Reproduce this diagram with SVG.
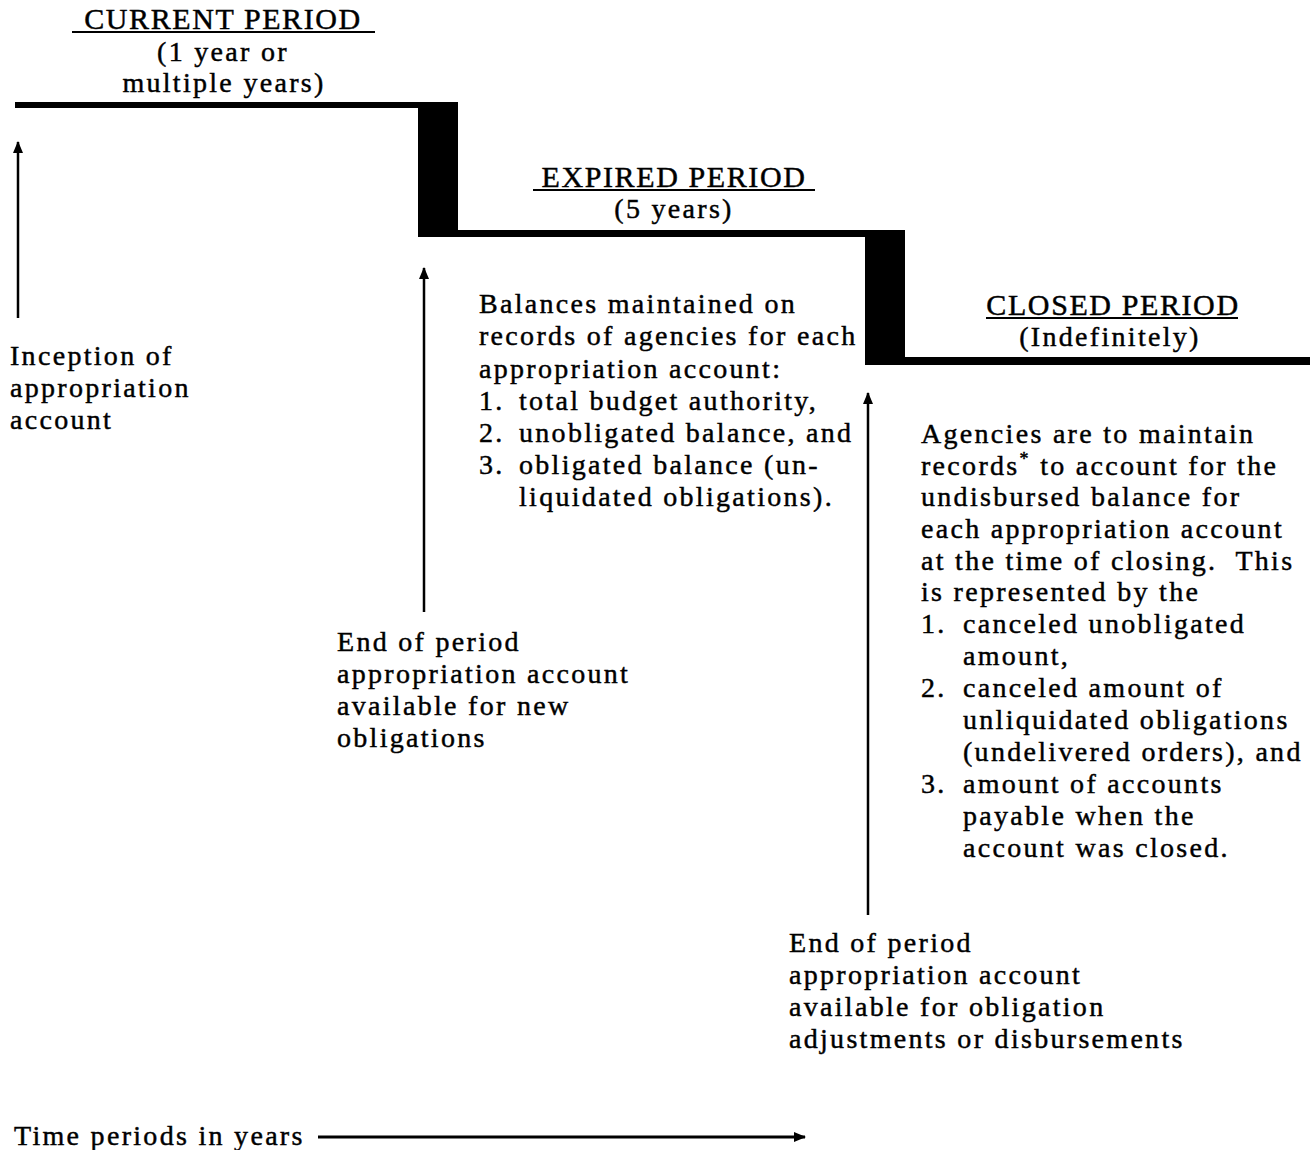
<svg xmlns="http://www.w3.org/2000/svg" width="1313" height="1150" viewBox="0 0 1313 1150">
<defs>
<marker id="ah" viewBox="0 0 12 10" refX="11" refY="5" markerWidth="12" markerHeight="10" markerUnits="userSpaceOnUse" orient="auto">
<path d="M0,0 L12,5 L0,10 Z" fill="#000"/>
</marker>
<style>
text{font-family:"Liberation Serif","Times New Roman",serif;font-size:28px;fill:#000;letter-spacing:2.3px;stroke:#000;stroke-width:0.45px}
.h{text-anchor:middle}
.t{font-size:30px;letter-spacing:1.6px}
.ul{stroke:#000;stroke-width:2}
.arr{stroke:#000;stroke-width:2.5;fill:none;marker-end:url(#ah)}
</style>
</defs>
<rect width="1313" height="1150" fill="#fff"/>
<g id="steps" fill="#000">
<rect x="15" y="102" width="443" height="6"/>
<rect x="418" y="103" width="40" height="134"/>
<rect x="418" y="230" width="487" height="7"/>
<rect x="865" y="230" width="40" height="135"/>
<rect x="865" y="357" width="445" height="8"/>
</g>
<g id="current-period">
<text class="h t" x="223" y="29">CURRENT PERIOD</text>
<line class="ul" x1="72" y1="32" x2="375" y2="32"/>
<text class="h" x="223" y="61">(1 year or</text>
<text class="h" x="224" y="92">multiple years)</text>
</g>
<g id="expired-period">
<text class="h t" x="674" y="187">EXPIRED PERIOD</text>
<line class="ul" x1="533" y1="190" x2="815" y2="190"/>
<text class="h" x="674" y="218">(5 years)</text>
</g>
<g id="closed-period">
<text class="h t" x="1113" y="315">CLOSED PERIOD</text>
<line class="ul" x1="986" y1="318" x2="1238" y2="318"/>
<text class="h" x="1110" y="346">(Indefinitely)</text>
</g>
<g id="inception">
<text x="10" y="365">Inception of</text>
<text x="10" y="397">appropriation</text>
<text x="10" y="429">account</text>
</g>
<g id="balances">
<text x="479" y="313">Balances maintained on</text>
<text x="479" y="345">records of agencies for each</text>
<text x="479" y="378">appropriation account:</text>
<text x="479" y="410">1.</text><text x="519" y="410">total budget authority,</text>
<text x="479" y="442">2.</text><text x="519" y="442">unobligated balance, and</text>
<text x="479" y="474">3.</text><text x="519" y="474">obligated balance (un-</text>
<text x="519" y="506">liquidated obligations).</text>
</g>
<g id="end-current">
<text x="337" y="651">End of period</text>
<text x="337" y="683">appropriation account</text>
<text x="337" y="715">available for new</text>
<text x="337" y="747">obligations</text>
</g>
<g id="closed-records">
<text x="921" y="443">Agencies are to maintain</text>
<text x="921" y="475">records<tspan dy="-10" font-size="18">*</tspan><tspan dy="10"> to account for the</tspan></text>
<text x="921" y="506">undisbursed balance for</text>
<text x="921" y="538">each appropriation account</text>
<text x="921" y="570" xml:space="preserve">at the time of closing.  This</text>
<text x="921" y="601">is represented by the</text>
<text x="921" y="633">1.</text><text x="963" y="633">canceled unobligated</text>
<text x="963" y="665">amount,</text>
<text x="921" y="697">2.</text><text x="963" y="697">canceled amount of</text>
<text x="963" y="729">unliquidated obligations</text>
<text x="963" y="761">(undelivered orders), and</text>
<text x="921" y="793">3.</text><text x="963" y="793">amount of accounts</text>
<text x="963" y="825">payable when the</text>
<text x="963" y="857">account was closed.</text>
</g>
<g id="end-expired">
<text x="789" y="952">End of period</text>
<text x="789" y="984">appropriation account</text>
<text x="789" y="1016">available for obligation</text>
<text x="789" y="1048">adjustments or disbursements</text>
</g>
<g id="time-axis">
<text x="14" y="1145">Time periods in years</text>
</g>
<g id="connectors">
<line class="arr" x1="18" y1="318" x2="18" y2="142"/>
<line class="arr" x1="424" y1="612" x2="424" y2="268"/>
<line class="arr" x1="868" y1="915" x2="868" y2="393"/>
<line class="arr" x1="318" y1="1137" x2="805" y2="1137" style="stroke-width:3"/>
</g>
</svg>
